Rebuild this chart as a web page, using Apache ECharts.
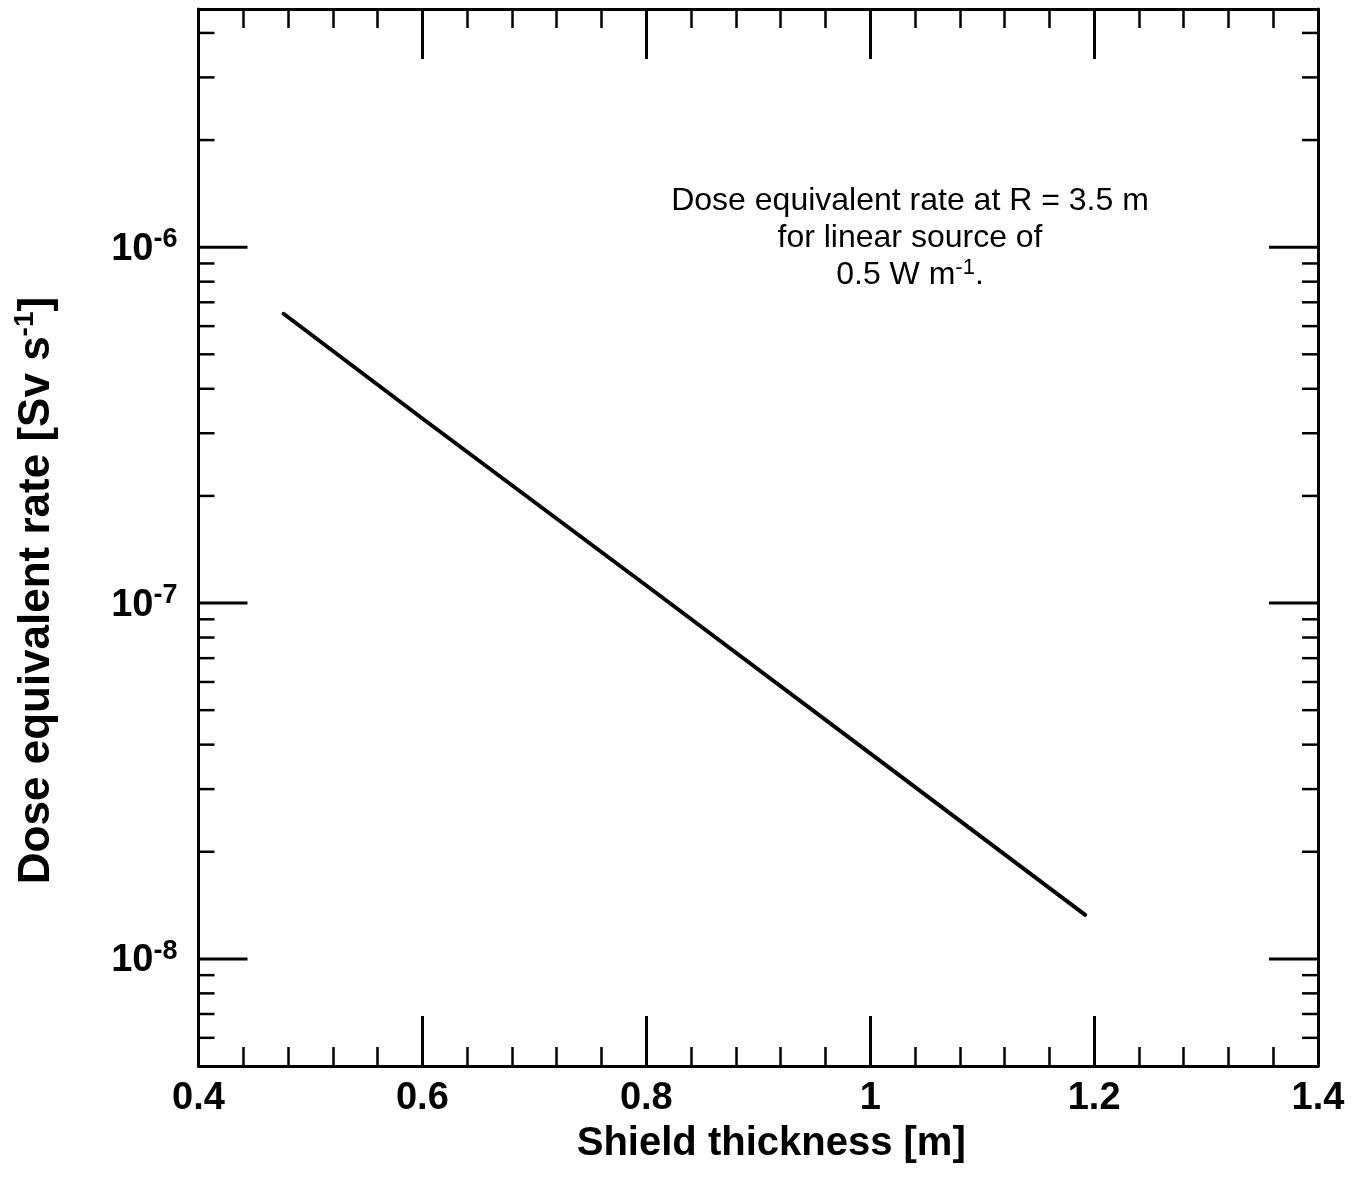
<!DOCTYPE html>
<html>
<head>
<meta charset="utf-8">
<script src="https://cdn.jsdelivr.net/npm/echarts@6/dist/echarts.min.js"></script>
<style>
html,body{margin:0;padding:0;background:#fff;}
#chart{width:1352px;height:1182px;}
</style>
</head>
<body>
<div id="chart"></div>
<script>
// ---- data ----
var shieldThickness = [0.476, 0.6, 0.8, 1.0, 1.192];           // m
var doseRate = [6.5e-7, 3.30e-7, 1.12e-7, 3.78e-8, 1.33e-8];    // Sv s^-1
var xTickLabels = ['0.4', '0.6', '0.8', '1', '1.2', '1.4'];
var yDecadeExponents = [-9, -8, -7, -6];
var yTickMantissas = [1, 2, 3, 4, 5, 6, 7, 8, 9];
var xMin = 0.4, xMax = 1.4, xInterval = 0.2;
var yMin = 5e-9, yMax = 4.67e-6;
var annotationLines = ['Dose equivalent rate at R = 3.5 m', 'for linear source of', '0.5 W m{s|-1}.'];

var FONT = '"Liberation Sans", Arial, Helvetica, sans-serif';

var lineData = shieldThickness.map(function (x, i) { return [x, doseRate[i]]; });

var yTickData = [];
yDecadeExponents.forEach(function (e) {
  yTickMantissas.forEach(function (m) {
    var v = m * Math.pow(10, e);
    if (v > yMin * 1.001 && v < yMax * 0.999) yTickData.push([xMin, v, m === 1 ? 1 : 0]);
  });
});

function yLabelFormatter(v) {
  var e = Math.log10(v);
  var r = Math.round(e);
  if (Math.abs(e - r) > 1e-6) return '';
  return '{b|10}{s|' + r + '}';
}

var chart = echarts.init(document.getElementById('chart'), null, { renderer: 'canvas' });

var xAxisCommon = {
  type: 'value', min: xMin, max: xMax, interval: xInterval,
  axisLine: { show: true, onZero: false, lineStyle: { color: '#000', width: 3 } },
  axisTick: { show: true, inside: true, length: 50, lineStyle: { color: '#000', width: 3 } },
  minorTick: { show: true, splitNumber: 5, length: 19, lineStyle: { color: '#000', width: 2.5 } },
  splitLine: { show: false }, minorSplitLine: { show: false }
};

var option = {
  backgroundColor: '#fff',
  animation: false,
  grid: { left: 198.5, right: 34, top: 9, bottom: 116, containLabel: false, outerBoundsMode: 'none' },
  xAxis: [
    Object.assign({}, xAxisCommon, {
      position: 'bottom',
      name: 'Shield thickness [m]',
      nameLocation: 'middle',
      nameGap: 58,
      nameTextStyle: { fontFamily: FONT, fontWeight: 'bold', fontSize: 40, color: '#000', padding: [0, 0, 0, 26] },
      axisLabel: {
        show: true, margin: 14, color: '#000', fontFamily: FONT, fontWeight: 'bold', fontSize: 38,
        formatter: function (v) {
          var idx = Math.round((v - xMin) / xInterval);
          return xTickLabels[idx] !== undefined ? xTickLabels[idx] : '';
        }
      }
    }),
    Object.assign({}, xAxisCommon, { position: 'top', axisLabel: { show: false } })
  ],
  yAxis: [
    {
      type: 'log', logBase: 10, min: yMin, max: yMax, position: 'left',
      name: '{t|Dose equivalent rate [Sv s}{s|-1}{t|]}',
      nameLocation: 'middle',
      nameGap: 137,
      nameRotate: 90,
      nameTextStyle: {
        color: '#000', padding: [0, 106, 0, 0],
        rich: {
          t: { fontFamily: FONT, fontWeight: 'bold', fontSize: 44, color: '#000', lineHeight: 50 },
          s: { fontFamily: FONT, fontWeight: 'bold', fontSize: 28, color: '#000', verticalAlign: 'top', lineHeight: 34 }
        }
      },
      axisLine: { show: true, onZero: false, lineStyle: { color: '#000', width: 3 } },
      axisTick: { show: false },
      splitLine: { show: false },
      axisLabel: {
        show: true, margin: 21, formatter: yLabelFormatter, color: '#000',
        rich: {
          b: { fontFamily: FONT, fontWeight: 'bold', fontSize: 38, color: '#000', lineHeight: 42, verticalAlign: 'bottom' },
          s: { fontFamily: FONT, fontWeight: 'bold', fontSize: 27, color: '#000', lineHeight: 26, verticalAlign: 'top' }
        }
      }
    },
    {
      type: 'log', logBase: 10, min: yMin, max: yMax, position: 'right',
      axisLine: { show: true, onZero: false, lineStyle: { color: '#000', width: 3 } },
      axisTick: { show: false },
      splitLine: { show: false },
      axisLabel: { show: false }
    }
  ],
  graphic: [
    {
      type: 'text',
      x: 910, y: 183,
      silent: true,
      style: {
        text: annotationLines.join('\n'),
        fontFamily: FONT, fontSize: 32, fill: '#000',
        align: 'center', verticalAlign: 'top', lineHeight: 37,
        rich: {
          s: { fontFamily: FONT, fontSize: 22, fill: '#000', verticalAlign: 'top', lineHeight: 22 }
        }
      }
    }
  ],
  series: [
    {
      type: 'custom',
      xAxisIndex: 0, yAxisIndex: 0,
      silent: true,
      clip: false,
      data: yTickData,
      encode: { x: 0, y: 1 },
      z: 5,
      renderItem: function (params, api) {
        var cs = params.coordSys;
        var y = api.coord([xMin, api.value(1)])[1];
        var major = api.value(2) === 1;
        var len = major ? 49 : 16;
        var lw = major ? 3 : 2.5;
        return {
          type: 'group',
          children: [
            { type: 'line', shape: { x1: cs.x, y1: y, x2: cs.x + len, y2: y }, style: { stroke: '#000', lineWidth: lw } },
            { type: 'line', shape: { x1: cs.x + cs.width, y1: y, x2: cs.x + cs.width - len, y2: y }, style: { stroke: '#000', lineWidth: lw } }
          ]
        };
      }
    },
    {
      type: 'line',
      xAxisIndex: 0, yAxisIndex: 0,
      data: lineData,
      showSymbol: false,
      symbol: 'none',
      lineStyle: { color: '#000', width: 4, cap: 'round' },
      z: 3
    }
  ]
};

chart.setOption(option);
</script>
</body>
</html>
